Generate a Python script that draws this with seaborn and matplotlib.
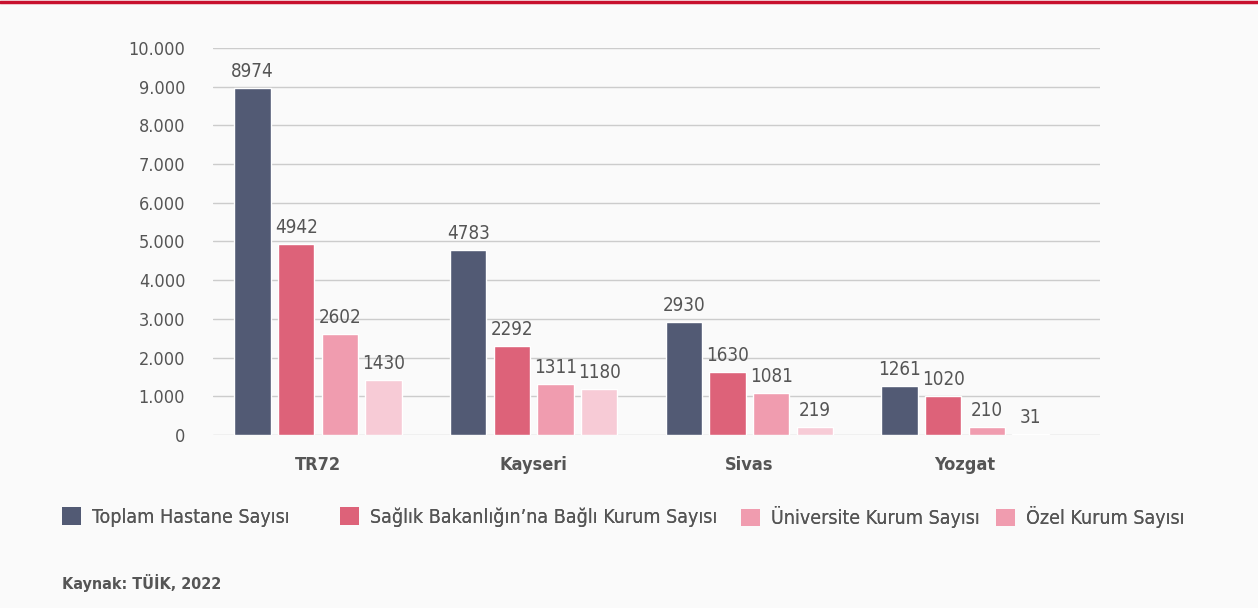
import numpy as np
import pandas as pd
import seaborn as sns
import matplotlib.pyplot as plt
from matplotlib.patches import Patch
from matplotlib.ticker import FuncFormatter

# data
regions = ["TR72", "Kayseri", "Sivas", "Yozgat"]
series = ["Toplam Hastane Sayısı", "Sağlık Bakanlığın’na Bağlı Kurum Sayısı",
          "Üniversite Kurum Sayısı", "Özel Kurum Sayısı"]
toplam = [8974, 4783, 2930, 1261]
saglik = [4942, 2292, 1630, 1020]
universite = [2602, 1311, 1081, 210]
ozel = [1430, 1180, 219, 31]

colors = ["#525a74", "#dd6279", "#f09caf", "#f7cbd6"]
legend_colors = ["#525a74", "#dd6279", "#f09caf", "#f09caf"]

df = pd.DataFrame({
    "region": regions * 4,
    "series": np.repeat(series, 4),
    "value": toplam + saglik + universite + ozel,
})

sns.set_style("white")
plt.rcParams['font.family'] = ['DejaVu Sans']
plt.rcParams['font.stretch'] = 'condensed'
bg = "#fafafa"
txt = "#555555"

fig = plt.figure(figsize=(12.58, 6.08), dpi=100, facecolor=bg)
ax = fig.add_axes([213/1258, 1-435/608, (1100-213)/1258, (435-48)/608])
ax.set_facecolor(bg)

sns.barplot(data=df, x="region", y="value", hue="series", palette=colors,
            width=0.81, gap=0.17, saturation=1, legend=False, ax=ax, zorder=3)

for cont in ax.containers:
    ax.bar_label(cont, fmt="%d", padding=5, fontsize=13.5, color=txt)

ax.set_ylim(0, 10000)
ax.set_yticks(np.arange(0, 10001, 1000))
ax.yaxis.set_major_formatter(FuncFormatter(lambda v, p: f"{int(v):,}".replace(",", ".")))
ax.set_xlim(-0.487, 3.626)
ax.grid(axis="y", color="#cccccc", linewidth=1, zorder=0)
ax.set_axisbelow(True)
for s in ax.spines.values():
    s.set_visible(False)
ax.tick_params(axis="both", length=0, labelsize=13, labelcolor=txt)
ax.tick_params(axis="y", pad=20)
ax.tick_params(axis="x", pad=15)
for lbl in ax.get_xticklabels():
    lbl.set_fontweight("bold")
ax.set_xlabel("")
ax.set_ylabel("")

# legend entries sit at uneven spots in the reference, so one legend per entry
leg_x = [44, 322, 723, 978]
for name, c, x in zip(series, legend_colors, leg_x):
    lg = fig.legend([Patch(facecolor=c, edgecolor="none")], [name], loc="center left",
                    bbox_to_anchor=(x/1258, 1-517/608), frameon=False, fontsize=14,
                    handlelength=1.0, handleheight=1.0, handletextpad=0.55,
                    labelcolor=txt)
    fig.add_artist(lg)

fig.text(62/1258, 1-583/608, "Kaynak: TÜİK, 2022", fontsize=11.5, fontweight="bold",
         color=txt, va="center", ha="left")

fig.add_artist(plt.Line2D([0, 1], [1-2/608, 1-2/608], color="#c8102e", linewidth=2.5,
                          transform=fig.transFigure))

fig.savefig("out.png", dpi=100, facecolor=bg)
